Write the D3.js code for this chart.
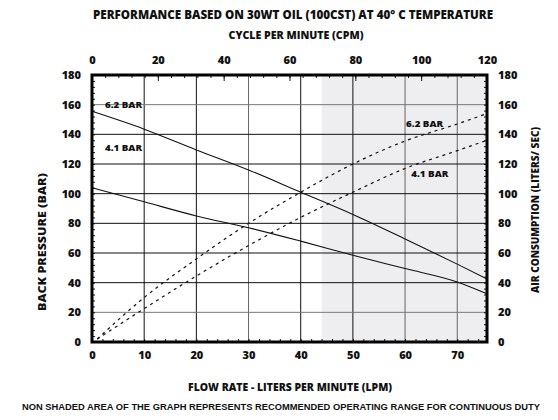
<!DOCTYPE html>
<html>
<head>
<meta charset="utf-8">
<script src="https://cdn.jsdelivr.net/npm/d3@7"></script>
<style>
  body { margin: 0; background: #fff; }
  text { font-family: "Open Sans", "DejaVu Sans", sans-serif; font-weight: 800; fill: #111; }
</style>
</head>
<body>
<div id="canvas"></div>
<script>
// flow rate (LPM) sample points
const flow = [0, 10, 20, 30, 40, 50, 60, 70, 75.7];
const bp62 = [155.5, 143.5, 129.5, 116, 101, 86, 69.5, 52.5, 42.5];
const bp41 = [104, 94.5, 85, 77, 68, 58.5, 49.5, 40.5, 32.5];
const airFlow = [1, 10, 20, 30, 40, 50, 60, 70, 75.7];
const air62 = [2, 30, 56, 80, 101, 120, 135.5, 147, 154];
const air41 = [2, 22.5, 44.5, 65, 84, 101, 117, 129, 136];
const lpmTicks = [0, 10, 20, 30, 40, 50, 60, 70];
const cpmTicks = [0, 20, 40, 60, 80, 100, 120];
const yTicks = [0, 20, 40, 60, 80, 100, 120, 140, 160, 180];
const shadeStart = 44;
const lpmMax = 75.7;
const cpmMax = 120;

const width = 558;
const height = 420;
const margin = { top: 75, left: 92, bottom: 78, right: 71 };
const iwidth = width - margin.left - margin.right;
const iheight = height - margin.top - margin.bottom;

const svg = d3.select("#canvas").append("svg")
  .attr("width", width)
  .attr("height", height);

const g = svg.append("g")
  .attr("transform", `translate(${margin.left},${margin.top})`);

const x = d3.scaleLinear().domain([0, lpmMax]).range([0, iwidth]);
const xc = d3.scaleLinear().domain([0, cpmMax]).range([0, iwidth]);
const y = d3.scaleLinear().domain([0, 180]).range([iheight, 0]);

// shaded area (outside recommended range)
g.append("rect")
  .attr("x", x(shadeStart))
  .attr("y", 0)
  .attr("width", x(lpmMax) - x(shadeStart))
  .attr("height", iheight)
  .style("fill", "#eeeef0");

// grid
const grayV = [30, 60, 70];
const grayH = [20, 160];
g.selectAll(".vgrid").data(lpmTicks.slice(1)).enter().append("line")
  .attr("x1", (d) => x(d)).attr("x2", (d) => x(d))
  .attr("y1", 0).attr("y2", iheight)
  .style("stroke", (d) => (grayV.includes(d) ? "#666" : "#111"))
  .style("stroke-width", 1);
g.selectAll(".hgrid").data(yTicks.slice(1, -1)).enter().append("line")
  .attr("x1", 0).attr("x2", iwidth)
  .attr("y1", (d) => y(d)).attr("y2", (d) => y(d))
  .style("stroke", (d) => (grayH.includes(d) ? "#777" : "#111"))
  .style("stroke-width", 1);

// inner minor ticks
const tickStyle = (sel) => {
  sel.select(".domain").remove();
  sel.selectAll("line").style("stroke", "#111");
};
g.append("g").attr("transform", `translate(0,${iheight})`)
  .call(d3.axisBottom(x).tickValues(d3.range(0, 76, 2)).tickSize(-3).tickFormat(""))
  .call(tickStyle);
g.append("g")
  .call(d3.axisTop(xc).tickValues(d3.range(0, 121, 4)).tickSize(-3).tickFormat(""))
  .call(tickStyle);
g.append("g")
  .call(d3.axisTop(xc).tickValues(cpmTicks).tickSize(-6).tickFormat(""))
  .call(tickStyle);
g.append("g")
  .call(d3.axisLeft(y).tickValues(d3.range(0, 181, 4)).tickSize(-3).tickFormat(""))
  .call(tickStyle);
g.append("g").attr("transform", `translate(${iwidth},0)`)
  .call(d3.axisRight(y).tickValues(d3.range(0, 181, 4)).tickSize(-3).tickFormat(""))
  .call(tickStyle);

// tick labels
const labelAxis = (sel) => {
  sel.select(".domain").remove();
  sel.selectAll("line").remove();
  sel.selectAll("text").style("font-size", "11px").style("font-family", null);
};
g.append("g").attr("transform", `translate(0,${iheight + 6})`)
  .call(d3.axisBottom(x).tickValues(lpmTicks).tickSize(0))
  .call(labelAxis);
g.append("g").attr("transform", "translate(0,-8)")
  .call(d3.axisTop(xc).tickValues(cpmTicks).tickSize(0))
  .call(labelAxis);
g.append("g").attr("transform", "translate(-8,0)")
  .call(d3.axisLeft(y).tickValues(yTicks).tickSize(0))
  .call(labelAxis);
g.append("g").attr("transform", `translate(${iwidth + 8},0)`)
  .call(d3.axisRight(y).tickValues(yTicks).tickSize(0))
  .call(labelAxis);

// curves
const line = d3.line()
  .x((d) => x(d[0]))
  .y((d) => y(d[1]))
  .curve(d3.curveMonotoneX);

const solid = [d3.zip(flow, bp62), d3.zip(flow, bp41)];
const dashed = [d3.zip(airFlow, air62), d3.zip(airFlow, air41)];

g.selectAll(".bp").data(solid).enter().append("path")
  .attr("d", line)
  .style("fill", "none")
  .style("stroke", "#111")
  .style("stroke-width", 1.1);

g.selectAll(".air").data(dashed).enter().append("path")
  .attr("d", line)
  .style("fill", "none")
  .style("stroke", "#111")
  .style("stroke-width", 1.2)
  .style("stroke-dasharray", "3,4");

// border
g.append("rect")
  .attr("width", iwidth)
  .attr("height", iheight)
  .style("fill", "none")
  .style("stroke", "#000")
  .style("stroke-width", 3);

// curve labels
const curveLabels = [
  { t: "6.2 BAR", u: 2.5, v: 160 },
  { t: "4.1 BAR", u: 2.5, v: 131 },
  { t: "6.2 BAR", u: 60.2, v: 147 },
  { t: "4.1 BAR", u: 61.2, v: 113.5 },
];
g.selectAll(".clabel").data(curveLabels).enter().append("text")
  .attr("x", (d) => x(d.u))
  .attr("y", (d) => y(d.v))
  .attr("dy", "0.35em")
  .attr("textLength", 37).attr("lengthAdjust", "spacingAndGlyphs")
  .style("font-size", "9.5px")
  .text((d) => d.t);

// titles
svg.append("text")
  .attr("x", 293).attr("y", 19)
  .attr("text-anchor", "middle")
  .attr("textLength", 400).attr("lengthAdjust", "spacingAndGlyphs")
  .style("font-size", "11.5px")
  .text("PERFORMANCE BASED ON 30WT OIL (100CST) AT 40° C TEMPERATURE");

svg.append("text")
  .attr("x", 296).attr("y", 39)
  .attr("text-anchor", "middle")
  .attr("textLength", 135).attr("lengthAdjust", "spacingAndGlyphs")
  .style("font-size", "10.5px")
  .text("CYCLE PER MINUTE (CPM)");

svg.append("text")
  .attr("x", 290).attr("y", 391)
  .attr("text-anchor", "middle")
  .attr("textLength", 204).attr("lengthAdjust", "spacingAndGlyphs")
  .style("font-size", "10.5px")
  .text("FLOW RATE - LITERS PER MINUTE (LPM)");

svg.append("text")
  .attr("x", 281).attr("y", 410)
  .attr("text-anchor", "middle")
  .attr("textLength", 518).attr("lengthAdjust", "spacingAndGlyphs")
  .style("font-family", "'Liberation Sans Narrow', 'Liberation Sans', Arial, sans-serif")
  .style("font-weight", "bold")
  .style("font-size", "9.5px")
  .text("NON SHADED AREA OF THE GRAPH REPRESENTS RECOMMENDED OPERATING RANGE FOR CONTINUOUS DUTY");

svg.append("text")
  .attr("transform", "translate(46,242) rotate(-90)")
  .attr("text-anchor", "middle")
  .attr("textLength", 138).attr("lengthAdjust", "spacingAndGlyphs")
  .style("font-size", "10.5px")
  .text("BACK PRESSURE (BAR)");

svg.append("text")
  .attr("transform", "translate(539,210) rotate(-90)")
  .attr("text-anchor", "middle")
  .attr("textLength", 166).attr("lengthAdjust", "spacingAndGlyphs")
  .style("font-size", "10.5px")
  .text("AIR CONSUMPTION (LITERS/ SEC)");
</script>
</body>
</html>
